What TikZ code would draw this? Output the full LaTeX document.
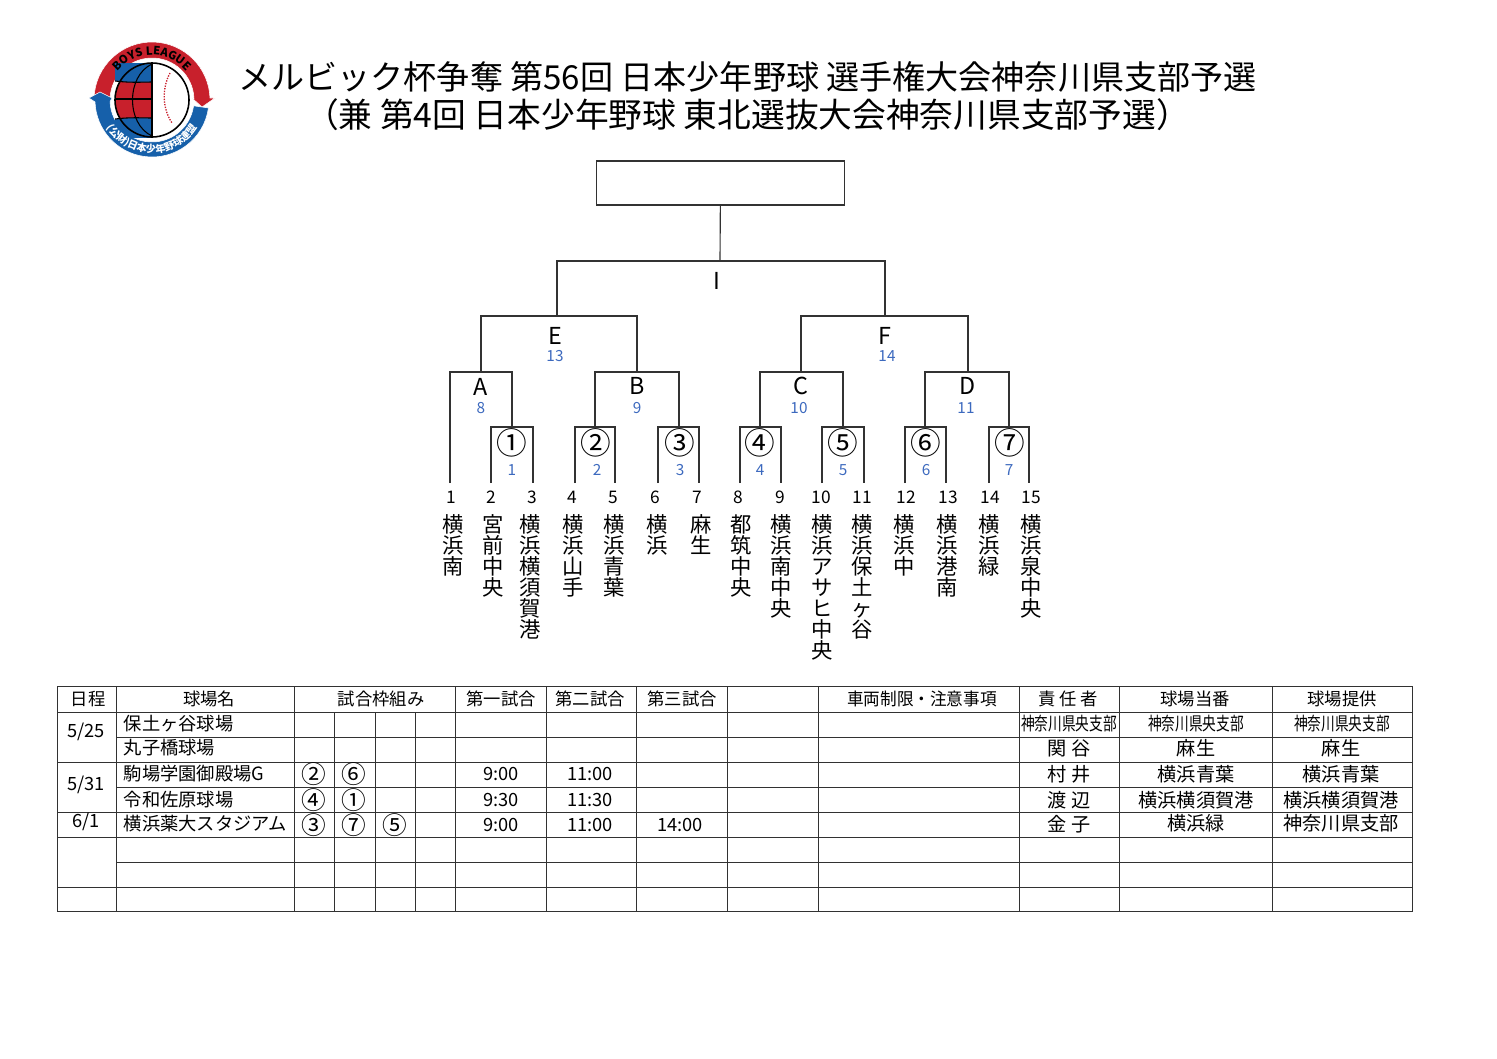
\documentclass[tikz,border=0pt]{standalone}
\usepackage{fontspec}
\usepackage{graphicx}
\setmainfont{Noto Sans CJK JP}
\definecolor{boysRed}{RGB}{200,32,44}
\definecolor{boysBlue}{RGB}{22,96,170}
\definecolor{numBlue}{RGB}{60,105,190}
\definecolor{rule}{RGB}{50,50,50}
\usetikzlibrary{decorations.text}
\newcommand{\fs}[1]{\fontsize{#1}{#1}\selectfont}
\newcommand{\narrowtxt}[1]{\scalebox{0.75}[1]{#1}}

\begin{document}
\begin{tikzpicture}[
  x=0.75pt, y=-0.75pt,
  brk/.style={draw=rule, line width=0.85pt},
  grid/.style={draw=rule, line width=0.75pt},
  ttl/.style={font=\fs{24.8}, inner sep=0pt},
  mno/.style={font=\fs{23}, inner sep=0pt},
  rno/.style={font=\fs{17.5}, inner sep=0pt},
  bno/.style={font=\fs{11.5}, text=numBlue, inner sep=0pt},
  tno/.style={font=\fs{13}, inner sep=0pt, anchor=base},
  tname/.style={font=\fontsize{16}{15.75}\selectfont, align=center, anchor=north, inner sep=0pt},
  cell/.style={font=\fs{13.7}, inner sep=0pt},
  mk/.style={font=\fs{18.5}, inner sep=0pt}
]
  \useasboundingbox (0,0) rectangle (1497,1058);

  % logo
  \begin{scope}[shift={(152,100)}, y=0.75pt]
    \fill[boysRed, draw=white, line width=0.4pt] (178:58) arc (178:2:58) -- (63,2) -- (50,-7) -- (40,2)
      -- (2:42) arc (2:178:42) -- cycle;
    \fill[boysBlue, draw=white, line width=0.4pt] (-8:57) arc (-8:-178:57) -- (-63,2) -- (-52,8) -- (-40,2)
      -- (-178:42) arc (-178:-8:42) -- cycle;
    \begin{scope}
      \clip (-37,-37) rectangle (0,37);
      \fill[boysRed] (0,0) circle (37);
      \fill[boysBlue] (-37,19) .. controls (-20,17) and (-10,18) .. (0,18) -- (0,40) -- (-37,40) -- cycle;
      \fill[boysBlue] (-37,-19) .. controls (-20,-17) and (-10,-18) .. (0,-18) -- (0,-40) -- (-37,-40) -- cycle;
      \draw[black, line width=0.8pt] (-37,1) -- (0,1);
      \draw[black, line width=0.8pt] (-37,19) .. controls (-20,17) and (-10,18) .. (0,18);
      \draw[black, line width=0.8pt] (-37,-19) .. controls (-20,-17) and (-10,-18) .. (0,-18);
      \draw[black, line width=0.8pt] (0,36) .. controls (-26,24) and (-26,-24) .. (0,-36);
    \end{scope}
    \draw[boysRed, line width=1pt, densely dotted] (18,27) .. controls (10,12) and (10,-8) .. (20,-23);
    \draw[black, line width=0.9pt] (0,37) -- (0,-37);
    \draw[black, line width=1.2pt] (0,0) circle (37);
    \path[decorate, decoration={text along path, text align=center,
        text={|\fs{8.5}\bfseries|BOYS LEAGUE}}] (165:45) arc (165:15:45);
    \path[decorate, decoration={text along path, text align=center,
        text={|\fs{7.5}\bfseries\color{white}|(公財)日本少年野球連盟}}] (190:53) arc (190:350:53);
  \end{scope}

  % title
  \node[ttl] (title1) at (747.5,77) {メルビック杯争奪 第56回 日本少年野球 選手権大会神奈川県支部予選};
  \node[ttl, font=\fs{25.3}] (title2) at (747.5,115) {（兼 第4回 日本少年野球 東北選抜大会神奈川県支部予選）};

  % team ends of the bracket
  \foreach \i/\x in {1/450,2/491,3/533,4/575,5/615,6/658,7/699,8/740,9/781,10/822,11/864,12/905,13/946,14/989,15/1029}
    \coordinate (t\i) at (\x,483);
  % tops of the brackets
  \foreach \m/\x/\y in {1/512/427,2/595/427,3/679/427,4/760/427,5/843/427,6/925/427,7/1009/427,
      A/481/372,B/637/372,C/801/372,D/968/372,E/557/316,F/885/316,I/720/261}
    \coordinate (m\m) at (\x,\y);

  \node[draw=rule, line width=0.85pt, minimum width=185.5pt, minimum height=33pt, inner sep=0pt] (champ) at (720.5,183) {};

  \draw[brk] (t2) |- (m1) -| (t3);
  \draw[brk] (t4) |- (m2) -| (t5);
  \draw[brk] (t6) |- (m3) -| (t7);
  \draw[brk] (t8) |- (m4) -| (t9);
  \draw[brk] (t10) |- (m5) -| (t11);
  \draw[brk] (t12) |- (m6) -| (t13);
  \draw[brk] (t14) |- (m7) -| (t15);
  \draw[brk] (t1) |- (mA) -| (m1);
  \draw[brk] (m2) |- (mB) -| (m3);
  \draw[brk] (m4) |- (mC) -| (m5);
  \draw[brk] (m6) |- (mD) -| (m7);
  \draw[brk] (mA) |- (mE) -| (mB);
  \draw[brk] (mC) |- (mF) -| (mD);
  \draw[brk] (mE) |- (mI) -| (mF);
  \draw[brk] (champ) -- (mI);

  % match marks
  \foreach \n/\c/\x/\nx in {1/①/512/512,2/②/596/597,3/③/680/680,4/④/760/760,5/⑤/843/843,6/⑥/926/926,7/⑦/1010/1009} {
    \node[mno] (mk\n) at (\x,443) {\c};
    \node[bno] (no\n) at (\nx,470) {\n};
  }
  \foreach \n/\x/\y in {A/481/387,B/637/386,C/801/386,D/968/386,E/555/336,F/885/336}
    \node[rno] (l\n) at (\x,\y) {\n};
  \foreach \n/\t/\x/\y in {A/8/481/408,B/9/637/408,C/10/799/408,D/11/966/408,E/13/555/356,F/14/887/356}
    \node[bno] (b\n) at (\x,\y) {\t};
  \node[rno] (lI) at (717,281) {I};

  % teams
  \foreach \i/\nx/\lx/\tn in {1/451/453/{横\\浜\\南},2/491/493/{宮\\前\\中\\央},3/532/530/{横\\浜\\横\\須\\賀\\港},
      4/572/573/{横\\浜\\山\\手},5/613/614/{横\\浜\\青\\葉},6/655/657/{横\\浜},7/697/701/{麻\\生},
      8/738/741/{都\\筑\\中\\央},9/780/781/{横\\浜\\南\\中\\央},10/821/822/{横\\浜\\ア\\サ\\ヒ\\中\\央},
      11/862/862/{横\\浜\\保\\土\\ヶ\\谷},12/906/904/{横\\浜\\中},13/948/947/{横\\浜\\港\\南},
      14/990/989/{横\\浜\\緑},15/1031/1031/{横\\浜\\泉\\中\\央}} {
    \node[tno] (n\i) at (\nx,503) {\i};
    \node[tname] (s\i) at (\lx,514) {\tn};
  }

  % table
  \draw[grid] (57,686) rectangle (1412,911);
  \foreach \y in {712,762,812,837,887} \draw[grid] (57,\y) -- (1412,\y);
  \foreach \y in {737,787,862} \draw[grid] (116,\y) -- (1412,\y);
  \foreach \x in {116,294,455,546,636,727,818,1019,1119,1272} \draw[grid] (\x,686) -- (\x,911);
  \foreach \x in {334,375,415} \draw[grid] (\x,712) -- (\x,911);

  % table head
  \foreach \i/\x/\t in {1/88/日程,2/209/球場名,3/381/試合枠組み,4/501/第一試合,5/590/第二試合,6/682/第三試合,
      8/1068/責 任 者,9/1195/球場当番,10/1342/球場提供}
    \node[cell, font=\fs{13}] (h\i) at (\x,699) {\t};
  \node[cell, font=\fs{13}] (h7) at (922,699) {\scalebox{0.96}[1]{車両制限・注意事項}};

  % dates
  \foreach \i/\y/\t in {1/732/5\slash 25,2/785/5\slash 31,3/822/6\slash 1}
    \node[cell] (d\i) at (86,\y) {\t};

  % grounds
  \foreach \i/\y/\t in {1/724/保土ヶ谷球場,2/748/丸子橋球場,3/774/駒場学園御殿場G,4/800/令和佐原球場,5/824/横浜薬大スタジアム}
    \node[cell, anchor=west] (g\i) at (123.5,\y) {\t};

  % marks of the grounds
  \foreach \i/\x/\y/\c in {1/314/774/②,2/354/774/⑥,3/314/800/④,4/354/800/①,5/314/825/③,6/354/825/⑦,7/395/825/⑤}
    \node[mk] (c\i) at (\x,\y) {\c};

  % kick off
  \foreach \i/\x/\y/\t in {1/501/774/9:00,2/590/774/11:00,3/501/800/9:30,4/590/800/11:30,5/501/825/9:00,6/590/825/11:00,7/680/825/14:00}
    \node[cell] (k\i) at (\x,\y) {\t};

  % people in charge
  \foreach \i/\x/\y/\t in {1/1069/724/神奈川県央支部,2/1196/724/神奈川県央支部,3/1342/724/神奈川県央支部}
    \node[cell] (p\i) at (\x,\y) {\narrowtxt{\t}};
  \foreach \i/\x/\y/\t in {4/1069/748/関 谷,5/1196/748/麻生,6/1341/748/麻生,7/1069/774/村 井,8/1196/774/横浜青葉,9/1341/774/横浜青葉,
      10/1069/800/渡 辺,11/1196/800/横浜横須賀港,12/1341/800/横浜横須賀港,13/1069/824/金 子,14/1196/823/横浜緑,15/1341/823/神奈川県支部}
    \node[cell, font=\fs{14.4}] (p\i) at (\x,\y) {\t};
\end{tikzpicture}
\end{document}
